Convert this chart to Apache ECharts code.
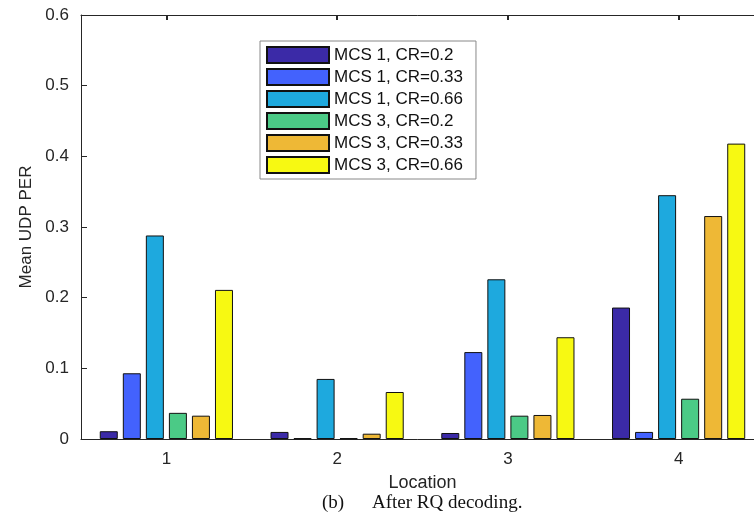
<!DOCTYPE html>
<html>
<head>
<meta charset="utf-8">
<script src="https://cdn.jsdelivr.net/npm/echarts@6/dist/echarts.min.js"></script>
<style>html,body{margin:0;padding:0;background:#fff;}#c{width:754px;height:523px;}</style>
</head>
<body>
<div id="c"></div>
<script>
var categories = ['1', '2', '3', '4'];
var seriesNames = ['MCS 1, CR=0.2', 'MCS 1, CR=0.33', 'MCS 1, CR=0.66', 'MCS 3, CR=0.2', 'MCS 3, CR=0.33', 'MCS 3, CR=0.66'];
var mcs1cr02 = [0.011, 0.010, 0.0085, 0.186];
var mcs1cr033 = [0.093, 0.001, 0.123, 0.010];
var mcs1cr066 = [0.288, 0.085, 0.226, 0.345];
var mcs3cr02 = [0.037, 0.001, 0.033, 0.057];
var mcs3cr033 = [0.033, 0.0075, 0.034, 0.3155];
var mcs3cr066 = [0.211, 0.0665, 0.144, 0.418];
var yTicks = [0, 0.1, 0.2, 0.3, 0.4, 0.5, 0.6];
var colors = ['#3b2aa7', '#4362fd', '#1ea9de', '#4bca86', '#eeb836', '#f7f912'];
var allData = [mcs1cr02, mcs1cr033, mcs1cr066, mcs3cr02, mcs3cr033, mcs3cr066];

var chart = echarts.init(document.getElementById('c'));
var textColor = '#262626';
var series = seriesNames.map(function (n, i) {
  return {
    name: n,
    type: 'bar',
    data: allData[i],
    barWidth: 18,
    barGap: '28%',
    itemStyle: { color: colors[i], borderColor: '#111', borderWidth: 1 },
    emphasis: { disabled: true }
  };
});
chart.setOption({
  animation: false,
  backgroundColor: '#fff',
  color: colors,
  grid: { left: 81, top: 15, width: 683, height: 424, outerBoundsMode: 'none', containLabel: false },
  legend: {
    orient: 'vertical',
    left: 260,
    top: 41,
    itemWidth: 62,
    itemHeight: 16,
    itemGap: 4,
    padding: [5, 13, 5, 6],
    borderColor: '#888',
    borderWidth: 1,
    backgroundColor: '#fff',
    icon: 'rect',
    textStyle: { fontFamily: 'Liberation Sans', fontSize: 17, color: '#111' },
    data: seriesNames
  },
  xAxis: [{
    type: 'category',
    data: categories,
    position: 'bottom',
    name: 'Location',
    nameLocation: 'middle',
    nameGap: 35,
    nameTextStyle: { fontFamily: 'Liberation Sans', fontSize: 18, color: textColor },
    axisLine: { lineStyle: { color: textColor, width: 1 } },
    axisTick: { inside: true, alignWithLabel: true, length: 5, lineStyle: { color: textColor, width: 2 } },
    axisLabel: { fontFamily: 'Liberation Sans', fontSize: 17, color: textColor, margin: 12 },
    splitLine: { show: false }
  }, {
    type: 'category',
    data: categories,
    position: 'top',
    axisLine: { lineStyle: { color: textColor, width: 1 } },
    axisTick: { show: true, inside: true, alignWithLabel: true, length: 5, lineStyle: { color: textColor, width: 2 } },
    axisLabel: { show: false },
    splitLine: { show: false }
  }],
  yAxis: {
    type: 'value',
    min: yTicks[0],
    max: yTicks[yTicks.length - 1],
    interval: 0.1,
    name: 'Mean UDP PER',
    nameLocation: 'middle',
    nameGap: 42,
    nameTextStyle: { fontFamily: 'Liberation Sans', fontSize: 17, color: textColor },
    axisLine: { show: true, lineStyle: { color: textColor, width: 1 } },
    axisTick: { show: true, inside: true, length: 6, lineStyle: { color: textColor } },
    axisLabel: { fontFamily: 'Liberation Sans', fontSize: 17, color: textColor, margin: 12,
      formatter: function (v) { return String(Math.round(v * 10) / 10); } },
    splitLine: { show: false }
  },
  graphic: [{
    type: 'text',
    left: 322,
    top: 494,
    style: { text: '(b)', font: '19px "Liberation Serif"', fill: '#111' }
  }, {
    type: 'text',
    left: 372,
    top: 494,
    style: { text: 'After RQ decoding.', font: '19px "Liberation Serif"', fill: '#111' }
  }],
  series: series
});
</script>
</body>
</html>
